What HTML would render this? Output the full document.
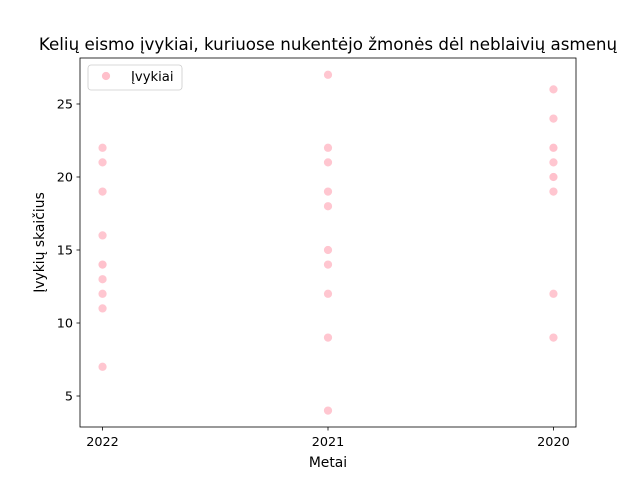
<!DOCTYPE html>
<html><head><meta charset="utf-8"><style>
body{margin:0;background:#fff}
svg{font-family:"DejaVu Sans","Liberation Sans",sans-serif}
</style></head><body>
<svg id="chart" width="640" height="480" viewBox="0 0 640 480">
<rect width="640" height="480" fill="#fff"/>
<g id="marks"></g>
<rect x="80" y="58" width="496" height="369" fill="none" stroke="#000" stroke-width="0.8"/>
<g id="axes" font-size="12.8"></g>
<text x="328" y="50" text-anchor="middle" font-size="16.7">Kelių eismo įvykiai, kuriuose nukentėjo žmonės dėl neblaivių asmenų</text>
<text x="328" y="467" text-anchor="middle" font-size="13.9">Metai</text>
<text transform="translate(44,242.5) rotate(-90)" text-anchor="middle" font-size="13.9">Įvykių skaičius</text>
<g>
<rect x="88" y="65" width="94" height="25" rx="3" fill="#fff" stroke="#ccc" stroke-width="0.8"/>
<circle cx="106" cy="76" r="4.5" fill="#ffc0cb" stroke="#fff" stroke-width="0.75"/>
<text x="131" y="81" font-size="13.2">Įvykiai</text>
</g>
</svg>
<script>
const categories = ["2022","2021","2020"];
const pointCats = [0,0,0,0,0,0,0,0,0,0, 1,1,1,1,1,1,1,1,1,1, 2,2,2,2,2,2,2,2,2,2];
const pointValues = [22,21,19,16,14,14,13,12,11,7, 27,22,21,19,18,15,14,12,9,4, 26,24,22,21,20,20,19,12,9,22];
const yTicks = [5,10,15,20,25];
const xScale = i => 80 + (i + 0.1) / 2.2 * 496;
const yScale = v => 427 - (v - 2.877) / (28.15 - 2.877) * 369;
const NS = "http://www.w3.org/2000/svg";
const marks = document.getElementById("marks");
const axes = document.getElementById("axes");
pointValues.forEach((v, i) => {
  const c = document.createElementNS(NS, "circle");
  c.setAttribute("cx", xScale(pointCats[i]));
  c.setAttribute("cy", yScale(v));
  c.setAttribute("r", 4.5);
  c.setAttribute("fill", "#ffc0cb");
  c.setAttribute("fill-opacity", "0.9");
  c.setAttribute("stroke", "#fff");
  c.setAttribute("stroke-width", "0.75");
  
  
  marks.appendChild(c);
});
categories.forEach((cat, i) => {
  const x = xScale(i);
  const l = document.createElementNS(NS, "line");
  l.setAttribute("x1", x); l.setAttribute("x2", x);
  l.setAttribute("y1", 427); l.setAttribute("y2", 430.5);
  l.setAttribute("stroke", "#000"); l.setAttribute("stroke-width", "0.8");
  
  
  axes.appendChild(l);
  const t = document.createElementNS(NS, "text");
  t.setAttribute("x", x); t.setAttribute("y", 446);
  t.setAttribute("text-anchor", "middle");
  t.textContent = cat;
  
  
  axes.appendChild(t);
});
yTicks.forEach(v => {
  const y = yScale(v);
  const l = document.createElementNS(NS, "line");
  l.setAttribute("x1", 76.5); l.setAttribute("x2", 80);
  l.setAttribute("y1", y); l.setAttribute("y2", y);
  l.setAttribute("stroke", "#000"); l.setAttribute("stroke-width", "0.8");
  
  
  axes.appendChild(l);
  const t = document.createElementNS(NS, "text");
  t.setAttribute("x", 73); t.setAttribute("y", y + 4.5);
  t.setAttribute("text-anchor", "end");
  t.textContent = v;
  
  
  axes.appendChild(t);
});
</script>
</body></html>
